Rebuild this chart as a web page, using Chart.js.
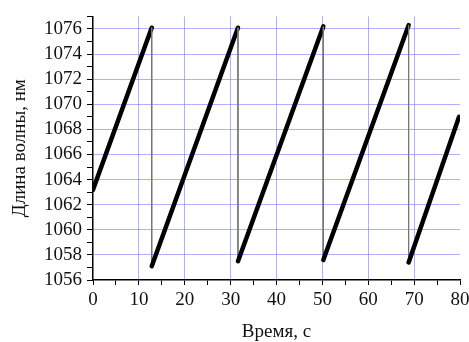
<!DOCTYPE html>
<html>
<head>
<meta charset="utf-8">
<script src="https://cdn.jsdelivr.net/npm/chart.js@4"></script>
<style>
  html, body { margin: 0; padding: 0; background: #fff; }
  #wrap { width: 469px; height: 342px; }
</style>
</head>
<body>
<div id="wrap"><canvas id="chart"></canvas></div>
<script>
// sawtooth: each ramp ends at a peak, then drops at the same time to the next minimum
const timeSec = [0, 12.8, 12.8, 31.6, 31.6, 50.2, 50.2, 68.8, 68.8, 79.8];
const waveNm  = [1063.2, 1076.1, 1057.1, 1076.1, 1057.5, 1076.2, 1057.6, 1076.3, 1057.4, 1069.0];

const xTicks = { min: 0, max: 80, step: 5, labelStep: 10 };
const yTicks = { min: 1056, max: 1077, step: 1, labelStep: 2 };

const serif = '"Liberation Serif", "Times New Roman", serif';
const gridBlue = 'rgba(110, 110, 255, 0.55)';

const points = timeSec.map((t, i) => ({ x: t, y: waveNm[i] }));
const isDrop = ctx => ctx.p0.parsed.x === ctx.p1.parsed.x;

new Chart(document.getElementById('chart'), {
    type: 'scatter',
    data: {
        datasets: [{
            data: points,
            showLine: true,
            pointRadius: 0,
            borderColor: '#000',
            borderWidth: 4.5,
            borderCapStyle: 'round',
            borderJoinStyle: 'round',
            segment: {
                borderWidth: ctx => isDrop(ctx) ? 1 : 4.5,
                borderColor: ctx => isDrop(ctx) ? '#777' : '#000'
            }
        }]
    },
    options: {
        responsive: true,
        maintainAspectRatio: false,
        animation: false,
        layout: { padding: { top: 11, right: 0, left: 0, bottom: 0 } },
        plugins: { legend: { display: false }, tooltip: { enabled: false } },
        scales: {
            x: {
                type: 'linear',
                min: xTicks.min,
                max: xTicks.max,
                afterFit: s => { s.height = 62; s.paddingRight = 9; },
                border: { color: '#000', width: 1.5 },
                grid: {
                    color: ctx => (ctx.tick && ctx.tick.value % xTicks.labelStep === 0 && ctx.tick.value > xTicks.min && ctx.tick.value < xTicks.max) ? gridBlue : 'rgba(0,0,0,0)',
                    tickColor: '#000',
                    tickLength: 5,
                    lineWidth: 1
                },
                ticks: {
                    stepSize: xTicks.step,
                    autoSkip: false,
                    maxRotation: 0,
                    padding: 4,
                    color: '#111',
                    font: { family: serif, size: 19 },
                    callback: v => v % xTicks.labelStep === 0 ? String(v) : ''
                },
                title: {
                    display: true,
                    text: 'Время, с',
                    color: '#111',
                    font: { family: serif, size: 19, lineHeight: 1 },
                    padding: { top: 10, bottom: 0 }
                }
            },
            y: {
                type: 'linear',
                min: yTicks.min,
                max: yTicks.max,
                afterFit: s => { s.width = 93; },
                border: { color: '#000', width: 1.5 },
                grid: {
                    color: ctx => (ctx.tick && ctx.tick.value % yTicks.labelStep === 0 && ctx.tick.value > yTicks.min) ? gridBlue : 'rgba(0,0,0,0)',
                    tickColor: '#000',
                    tickLength: 6,
                    lineWidth: 1
                },
                ticks: {
                    stepSize: yTicks.step,
                    autoSkip: false,
                    padding: 5,
                    color: '#111',
                    font: { family: serif, size: 19 },
                    callback: v => v % yTicks.labelStep === 0 ? String(v) : ''
                },
                title: {
                    display: true,
                    text: 'Длина волны, нм',
                    color: '#111',
                    font: { family: serif, size: 19 },
                    padding: { top: 9, bottom: 4 }
                }
            }
        }
    }
});
</script>
</body>
</html>
